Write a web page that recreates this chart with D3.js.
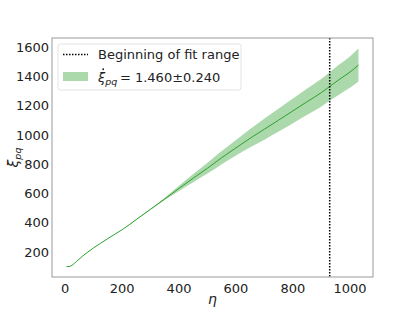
<!DOCTYPE html>
<html>
<head>
<meta charset="utf-8">
<script src="https://cdn.jsdelivr.net/npm/d3@7"></script>
<style>
  body { margin: 0; background: #fff; }
  svg text { font-family: "DejaVu Sans", sans-serif; fill: #222; }
</style>
</head>
<body>
<svg></svg>
<script>
var width = 415;
var height = 312;

// values
var eta = [5, 15, 25, 40, 60, 80, 100, 125, 150, 175, 200, 250, 300, 350, 400, 450, 500, 550, 600, 650, 700, 750, 800, 850, 900, 930, 960, 1000, 1030];
var xi = [100, 101, 110, 135, 170, 200, 228, 260, 292, 322, 352, 422, 492, 563, 635, 705, 773, 845, 912, 978, 1040, 1102, 1165, 1228, 1290, 1333, 1376, 1430, 1478];
var xiErr = [0, 0, 0, 0, 0, 0, 0, 0, 0, 0, 0, 1, 3, 8, 18, 28, 37, 45, 53, 62, 72, 79, 85, 90, 95, 98, 102, 107, 113];
var fitStart = 929;
var xTicks = [0, 200, 400, 600, 800, 1000];
var yTicks = [200, 400, 600, 800, 1000, 1200, 1400, 1600];

var green = "#2ca02c";
var band = "#acd9ac";

var m = {left: 52, right: 373, top: 38, bottom: 277};

var svg = d3.select("svg")
    .attr("width", width)
    .attr("height", height);

var x = d3.scaleLinear().domain([-46, 1081]).range([m.left, m.right]);
var y = d3.scaleLinear().domain([29, 1663]).range([m.bottom, m.top]);

var rows = eta.map(function(d, i) { return {e: d, v: xi[i], s: xiErr[i]}; });

var area = d3.area()
    .curve(d3.curveMonotoneX)
    .x(function(d) { return x(d.e); })
    .y0(function(d) { return y(d.v - d.s); })
    .y1(function(d) { return y(d.v + d.s); });

var line = d3.line()
    .curve(d3.curveMonotoneX)
    .x(function(d) { return x(d.e); })
    .y(function(d) { return y(d.v); });

svg.append("path")
    .datum(rows)
    .attr("d", area)
    .attr("fill", band);

svg.append("path")
    .datum(rows)
    .attr("d", line)
    .attr("fill", "none")
    .attr("stroke", green)
    .attr("stroke-width", 1);

svg.append("line")
    .attr("x1", x(fitStart)).attr("x2", x(fitStart))
    .attr("y1", m.top).attr("y2", m.bottom)
    .attr("stroke", "#000")
    .attr("stroke-width", 1.5)
    .attr("stroke-dasharray", "1.5,1.5");

// spines
svg.append("rect")
    .attr("x", m.left).attr("y", m.top)
    .attr("width", m.right - m.left).attr("height", m.bottom - m.top)
    .attr("fill", "none")
    .attr("stroke", "#999")
    .attr("stroke-width", 1);

// tick labels
svg.selectAll("text.xt")
    .data(xTicks)
    .enter().append("text")
    .attr("class", "xt")
    .attr("x", function(d) { return x(d); })
    .attr("y", 293)
    .attr("text-anchor", "middle")
    .attr("font-size", 13)
    .text(function(d) { return d; });

svg.selectAll("text.yt")
    .data(yTicks)
    .enter().append("text")
    .attr("class", "yt")
    .attr("x", 49)
    .attr("y", function(d) { return y(d) + 4.7; })
    .attr("text-anchor", "end")
    .attr("font-size", 13)
    .text(function(d) { return d; });

// axis labels
svg.append("text")
    .attr("x", (m.left + m.right) / 2)
    .attr("y", 304)
    .attr("text-anchor", "middle")
    .attr("font-size", 14)
    .attr("font-style", "italic")
    .text("η");

var yl = svg.append("text")
    .attr("transform", "translate(18," + ((m.top + m.bottom) / 2) + ") rotate(-90)")
    .attr("text-anchor", "middle")
    .attr("font-size", 14)
    .attr("font-style", "italic");
yl.append("tspan").text("ξ");
yl.append("tspan").attr("font-size", 9.5).attr("dy", 3).text("pq");

// legend
var lg = svg.append("g");
lg.append("rect")
    .attr("x", 58).attr("y", 44)
    .attr("width", 183).attr("height", 46)
    .attr("rx", 2.5)
    .attr("fill", "#fff").attr("fill-opacity", 0.8)
    .attr("stroke", "#e3e3e3");

lg.append("line")
    .attr("x1", 63).attr("x2", 88)
    .attr("y1", 54.5).attr("y2", 54.5)
    .attr("stroke", "#000")
    .attr("stroke-width", 1.5)
    .attr("stroke-dasharray", "1.5,1.5");

lg.append("text")
    .attr("x", 98).attr("y", 59)
    .attr("font-size", 13)
    .text("Beginning of fit range");

lg.append("rect")
    .attr("x", 63).attr("y", 72)
    .attr("width", 25).attr("height", 9)
    .attr("fill", band);

var lt = lg.append("text")
    .attr("x", 98).attr("y", 82)
    .attr("font-size", 13);
lt.append("tspan").attr("font-style", "italic").text("ξ");
lt.append("tspan").attr("font-style", "italic").attr("font-size", 9.5).attr("dy", 3).text("pq");
lt.append("tspan").attr("dy", -3).text("\u2009= 1.460±0.240");

// dot above xi
lg.append("circle")
    .attr("cx", 103.2).attr("cy", 69.3)
    .attr("r", 0.95)
    .attr("fill", "#222");
</script>
</body>
</html>
